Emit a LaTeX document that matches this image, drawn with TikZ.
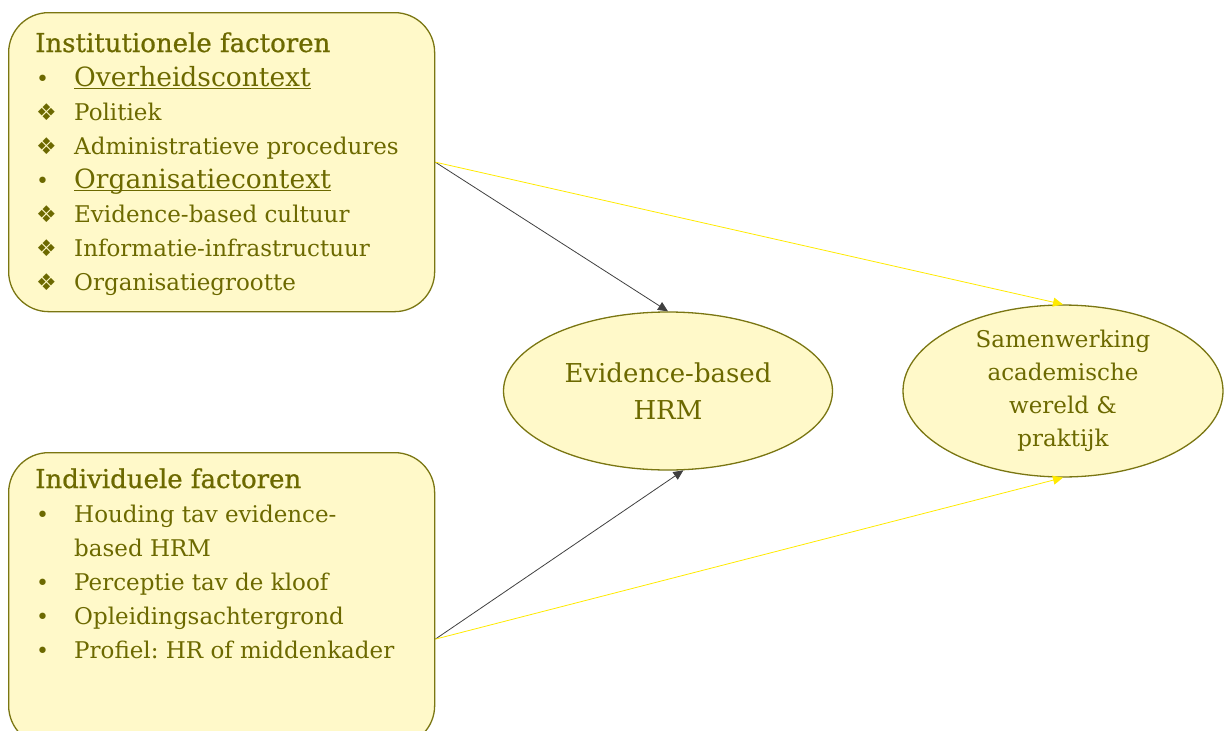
\documentclass[tikz,border=0pt]{standalone}
\usepackage{fontspec}
\setmainfont{DejaVu Serif}
\newfontfamily\symbolen{DejaVu Sans}
\newfontfamily\titelletter[FakeBold=0.8]{DejaVu Serif}
\usepackage{xcolor}
\usepackage{tikz}
\usetikzlibrary{arrows.meta, positioning, calc, shapes.geometric}
\frenchspacing

\definecolor{vulgeel}{HTML}{FFF9C9}
\definecolor{randolijf}{HTML}{7A7612}
\definecolor{tekstolijf}{HTML}{6C6900}
\definecolor{pijlgeel}{HTML}{FFEA00}
\definecolor{pijlgrijs}{HTML}{404040}

\newcommand{\titel}[1]{{\titelletter\fontsize{26}{34}\selectfont #1}}
\newcommand{\bol}{\makebox[39pt][l]{\hspace{1pt}{\symbolen\fontsize{22}{34}\selectfont •}}}
\newcommand{\ruit}{\makebox[39pt][l]{\hspace{1pt}{\symbolen\fontsize{23}{34}\selectfont ❖}}}
\newcommand{\onderstreep}[1]{{\setbox0\hbox{\fontsize{26.5}{34}\selectfont #1}%
  \rlap{\rule[-3pt]{\wd0}{1.1pt}}\box0}}

\begin{document}
\begin{tikzpicture}[
    x=1pt, y=-1pt,
    kader/.style={draw=randolijf, fill=vulgeel, line width=1.3pt,
                  rounded corners=40pt, inner sep=0pt},
    uitkomst/.style={ellipse, draw=randolijf, fill=vulgeel, line width=1.3pt,
                     inner sep=0pt, align=center, text=tekstolijf},
    tekstblok/.style={inner sep=0pt, text=tekstolijf, align=left,
                      font=\fontsize{23}{34}\selectfont},
    grijspijl/.style={draw=pijlgrijs, line width=0.8pt,
                      -{Triangle[length=10pt, width=9pt]}},
    geelpijl/.style={draw=pijlgeel, line width=0.8pt,
                     -{Triangle[length=10pt, width=9pt]}}
  ]
  \useasboundingbox (0,0) rectangle (1224,731);

  % --- Linkerkolom: factoren ---
  \node[kader, anchor=north west, minimum width=426pt, minimum height=299pt]
    (inst) at (8,12) {};
  \node[tekstblok, anchor=base west] (insttekst) at (35,52) {%
    \begin{tabular}[t]{@{}l@{}l@{}}
      \multicolumn{2}{@{}l@{}}{\titel{Institutionele factoren}}\\
      \bol  & \onderstreep{Overheidscontext}\\
      \ruit & Politiek\\
      \ruit & Administratieve procedures\\
      \bol  & \onderstreep{Organisatiecontext}\\
      \ruit & Evidence-based cultuur\\
      \ruit & Informatie-infrastructuur\\
      \ruit & Organisatiegrootte
    \end{tabular}};

  \node[kader, anchor=north west, minimum width=426pt, minimum height=293pt]
    (indiv) at (8,452) {};
  \node[tekstblok, anchor=base west] (indivtekst) at (35,488) {%
    \begin{tabular}[t]{@{}l@{}l@{}}
      \multicolumn{2}{@{}l@{}}{\titel{Individuele factoren}}\\
      \bol & Houding tav evidence-\\
           & based HRM\\
      \bol & Perceptie tav de kloof\\
      \bol & Opleidingsachtergrond\\
      \bol & Profiel: HR of middenkader
    \end{tabular}};

  % --- Uitkomsten ---
  \node[uitkomst, minimum width=329pt, minimum height=158pt,
        font=\fontsize{26}{37}\selectfont] (hrm) at (668,391)
    {Evidence-based\\HRM};
  \node[uitkomst, minimum width=320pt, minimum height=159pt,
        font=\fontsize{23}{33}\selectfont] (samen) at (1063,391)
    {Samenwerking\\academische\\wereld \&\\praktijk};

  % --- Verbanden ---
  \coordinate (indivuit) at ([yshift=-40pt]indiv.east);
  \draw[grijspijl] (inst.east) -- (hrm.north);
  \draw[geelpijl] (inst.east) -- (samen.north);
  \draw[grijspijl] (indivuit) -- (hrm.-79);
  \draw[geelpijl] (indivuit) -- (samen.south);
\end{tikzpicture}
\end{document}
